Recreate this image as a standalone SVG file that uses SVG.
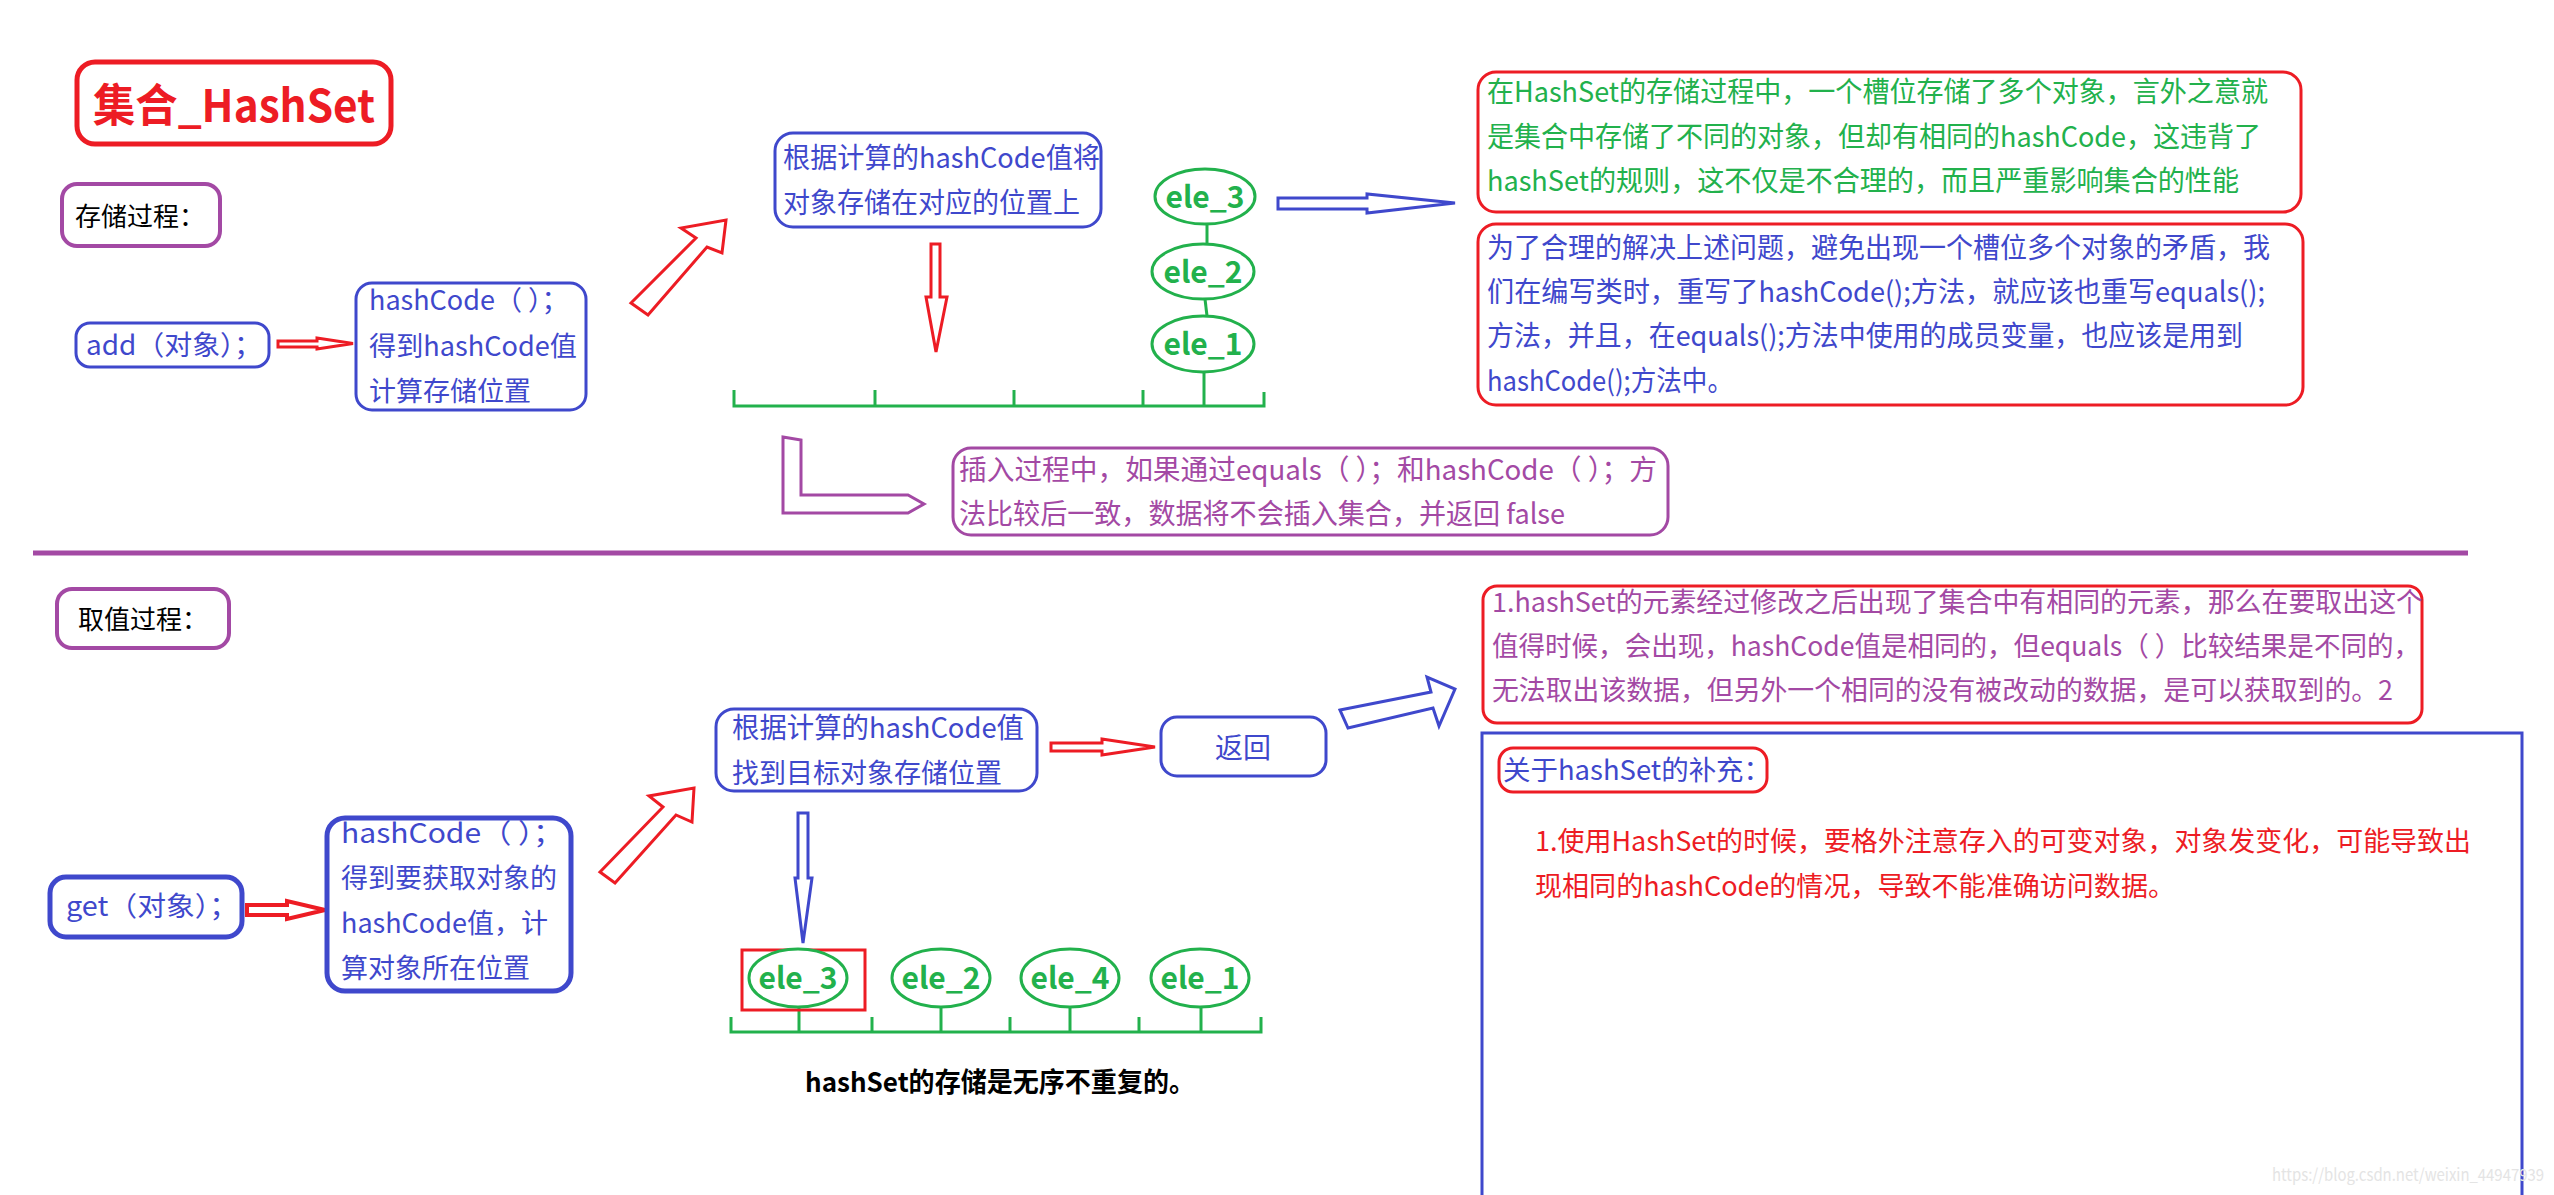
<svg xmlns="http://www.w3.org/2000/svg" width="2554" height="1195" viewBox="0 0 2554 1195">
<style>
text{font-family:"Noto Sans CJK SC","Microsoft YaHei","Noto Sans",sans-serif;font-size:28px}
.b{fill:#3f48cc}.r{fill:#ed1c24}.g{fill:#22b14c}.p{fill:#a349a4}.k{fill:#000}
.bold{font-weight:bold}
.bx{fill:#fff;stroke-width:3}
.sb{stroke:#3f48cc}.sr{stroke:#ed1c24}.sg{stroke:#22b14c}.sp{stroke:#a349a4}
.el{fill:#fff;stroke:#22b14c;stroke-width:3}
.ln{fill:none;stroke-width:3}
.ar{fill:#fff;stroke-width:3;stroke-linejoin:miter}
.et{font-weight:bold;font-size:30px;fill:#22b14c;text-anchor:middle}
</style>
<rect width="2554" height="1195" fill="#fff"/>

<g id="connectors">
  <line x1="33" y1="553" x2="2468" y2="553" stroke="#a349a4" stroke-width="5"/>
  <polygon class="ar sr" points="278,341 317,341 317,338 353,343.5 317,349 317,347 278,347"/>
  <polygon class="ar sr" points="631,303 696,238 681,228 726,220 722,253 707,247 648,315"/>
  <polygon class="ar sr" points="931,244 940,244 940,297 947,297 936,352 926,297 931,297"/>
  <polygon class="ar sb" points="1278,198 1367,198 1367,194 1455,203 1367,213 1367,209 1278,209"/>
  <polygon class="ar sp" points="783,437 801,440 801,495 908,495 924,504 908,513 783,513"/>
  <polyline class="ln sg" points="734,390 734,406 1264,406 1264,392"/>
  <line class="ln sg" x1="875" y1="390" x2="875" y2="406"/>
  <line class="ln sg" x1="1014" y1="390" x2="1014" y2="406"/>
  <line class="ln sg" x1="1143" y1="390" x2="1143" y2="406"/>
  <line class="ln sg" x1="1207" y1="224" x2="1207" y2="244"/>
  <line class="ln sg" x1="1205" y1="299" x2="1207" y2="316"/>
  <line class="ln sg" x1="1204" y1="372" x2="1204" y2="406"/>
  <polygon class="ar sr" points="247,905 287,905 287,901 325,910 287,919 287,915 247,915" style="stroke-width:4"/>
  <polygon class="ar sr" points="600,872 663,807 649,796 694,788 692,822 676,815 615,883"/>
  <polygon class="ar sr" points="1051,743 1102,743 1102,739 1155,747 1102,755 1102,751 1051,751"/>
  <polygon class="ar sb" points="798,813 808,813 808,878 812,878 803,943 795,878 798,878"/>
  <polygon class="ar sb" points="1340,710 1431,692 1427,677 1455,689 1439,726 1433,708 1348,728"/>
  <polyline class="ln sg" points="731,1017 731,1032 1261,1032 1261,1017"/>
  <line class="ln sg" x1="872" y1="1017" x2="872" y2="1032"/>
  <line class="ln sg" x1="1010" y1="1017" x2="1010" y2="1032"/>
  <line class="ln sg" x1="1139" y1="1017" x2="1139" y2="1032"/>
  <line class="ln sg" x1="799" y1="1008" x2="799" y2="1032"/>
  <line class="ln sg" x1="941" y1="1008" x2="941" y2="1032"/>
  <line class="ln sg" x1="1070" y1="1008" x2="1070" y2="1032"/>
  <line class="ln sg" x1="1201" y1="1008" x2="1201" y2="1032"/>
</g>

<g id="title">
  <rect x="77" y="62" width="314" height="82" rx="18" class="bx sr" style="stroke-width:5"/>
  <text x="93" y="122" class="r bold" style="font-size:45px" textLength="282" lengthAdjust="spacingAndGlyphs">集合_HashSet</text>
</g>

<g id="store-label">
  <rect x="62" y="184" width="158" height="62" rx="15" class="bx sp" style="stroke-width:4"/>
  <text x="75" y="226" class="k" style="font-size:26px">存储过程：</text>
</g>

<g id="add">
  <rect x="76" y="323" width="193" height="44" rx="14" class="bx sb"/>
  <text x="86" y="355" class="b" style="font-size:27px" textLength="176" lengthAdjust="spacingAndGlyphs">add（对象）；</text>
</g>

<g id="hashcode-1">
  <rect x="356" y="283" width="230" height="127" rx="16" class="bx sb"/>
  <text x="369" y="310" class="b" style="font-size:27px">hashCode（ ）；</text>
  <text x="369" y="356" class="b" style="font-size:27px" textLength="208" lengthAdjust="spacingAndGlyphs">得到hashCode值</text>
  <text x="369" y="401" class="b" style="font-size:27px">计算存储位置</text>
</g>

<g id="store-position">
  <rect x="775" y="133" width="326" height="94" rx="18" class="bx sb"/>
  <text x="783" y="168" class="b" textLength="317" lengthAdjust="spacingAndGlyphs">根据计算的hashCode值将</text>
  <text x="783" y="213" class="b" textLength="297" lengthAdjust="spacingAndGlyphs">对象存储在对应的位置上</text>
</g>

<g id="ele3-top"><ellipse cx="1205" cy="196.5" rx="50" ry="27.5" class="el"/><text x="1205" y="208" class="et">ele_3</text></g>
<g id="ele2-top"><ellipse cx="1203" cy="271.5" rx="51" ry="27.5" class="el"/><text x="1203" y="283" class="et">ele_2</text></g>
<g id="ele1-top"><ellipse cx="1203" cy="344" rx="51" ry="28" class="el"/><text x="1203" y="355" class="et">ele_1</text></g>

<g id="note-1">
  <rect x="1478" y="72" width="823" height="140" rx="18" class="bx sr"/>
  <text x="1487" y="102" class="g" textLength="781" lengthAdjust="spacingAndGlyphs">在HashSet的存储过程中，一个槽位存储了多个对象，言外之意就</text>
  <text x="1487" y="147" class="g" textLength="774" lengthAdjust="spacingAndGlyphs">是集合中存储了不同的对象，但却有相同的hashCode，这违背了</text>
  <text x="1487" y="191" class="g" textLength="752" lengthAdjust="spacingAndGlyphs">hashSet的规则，这不仅是不合理的，而且严重影响集合的性能</text>
</g>

<g id="note-2">
  <rect x="1478" y="224" width="825" height="181" rx="18" class="bx sr"/>
  <text x="1487" y="258" class="b" textLength="783" lengthAdjust="spacingAndGlyphs">为了合理的解决上述问题，避免出现一个槽位多个对象的矛盾，我</text>
  <text x="1487" y="302" class="b" textLength="778" lengthAdjust="spacingAndGlyphs">们在编写类时，重写了hashCode();方法，就应该也重写equals();</text>
  <text x="1487" y="346" class="b" textLength="756" lengthAdjust="spacingAndGlyphs">方法，并且，在equals();方法中使用的成员变量，也应该是用到</text>
  <text x="1487" y="391" class="b" textLength="246" lengthAdjust="spacingAndGlyphs">hashCode();方法中。</text>
</g>

<g id="insert-note">
  <rect x="953" y="448" width="715" height="87" rx="18" class="bx sp"/>
  <text x="959" y="480" class="p" textLength="698" lengthAdjust="spacingAndGlyphs">插入过程中，如果通过equals（ ）；和hashCode（ ）；方</text>
  <text x="959" y="524" class="p" textLength="606" lengthAdjust="spacingAndGlyphs">法比较后一致，数据将不会插入集合，并返回 false</text>
</g>

<g id="get-label">
  <rect x="57" y="589" width="172" height="59" rx="15" class="bx sp" style="stroke-width:4"/>
  <text x="78" y="629" class="k" style="font-size:26px">取值过程：</text>
</g>

<g id="get">
  <rect x="50" y="877" width="192" height="60" rx="16" class="bx sb" style="stroke-width:5"/>
  <text x="66" y="916" class="b" style="font-size:27px" textLength="172" lengthAdjust="spacingAndGlyphs">get（对象）；</text>
</g>

<g id="hashcode-2">
  <rect x="327" y="818" width="244" height="173" rx="18" class="bx sb" style="stroke-width:5"/>
  <text x="341" y="843" class="b" style="font-size:27px" textLength="222" lengthAdjust="spacingAndGlyphs">hashCode（ ）；</text>
  <text x="341" y="888" class="b" style="font-size:27px">得到要获取对象的</text>
  <text x="341" y="933" class="b" style="font-size:27px">hashCode值，计</text>
  <text x="341" y="978" class="b" style="font-size:27px">算对象所在位置</text>
</g>

<g id="find-position">
  <rect x="716" y="709" width="321" height="82" rx="18" class="bx sb"/>
  <text x="732" y="738" class="b" textLength="292" lengthAdjust="spacingAndGlyphs">根据计算的hashCode值</text>
  <text x="732" y="783" class="b" style="font-size:27px">找到目标对象存储位置</text>
</g>

<g id="return">
  <rect x="1161" y="717" width="165" height="59" rx="16" class="bx sb"/>
  <text x="1243" y="758" class="b" style="text-anchor:middle">返回</text>
</g>

<g id="ele3-bottom">
  <rect x="742" y="950" width="123" height="60" fill="none" stroke="#ed1c24" stroke-width="3"/>
  <ellipse cx="798" cy="978" rx="49" ry="29" class="el"/><text x="798" y="989" class="et">ele_3</text>
</g>
<g id="ele2-bottom"><ellipse cx="941" cy="978" rx="49" ry="29" class="el"/><text x="941" y="989" class="et">ele_2</text></g>
<g id="ele4-bottom"><ellipse cx="1070" cy="978" rx="49" ry="29" class="el"/><text x="1070" y="989" class="et">ele_4</text></g>
<g id="ele1-bottom"><ellipse cx="1200" cy="978" rx="49" ry="29" class="el"/><text x="1200" y="989" class="et">ele_1</text></g>

<g id="summary">
  <text x="805" y="1092" class="k bold" style="font-size:27px" textLength="390" lengthAdjust="spacingAndGlyphs">hashSet的存储是无序不重复的。</text>
</g>

<g id="note-3">
  <rect x="1483" y="586" width="939" height="137" rx="14" class="bx sr"/>
  <text x="1492" y="612" class="p" style="font-size:27px" textLength="931" lengthAdjust="spacingAndGlyphs">1.hashSet的元素经过修改之后出现了集合中有相同的元素，那么在要取出这个</text>
  <text x="1492" y="656" class="p" style="font-size:27px" textLength="928" lengthAdjust="spacingAndGlyphs">值得时候，会出现，hashCode值是相同的，但equals（ ）比较结果是不同的，</text>
  <text x="1492" y="700" class="p" style="font-size:27px" textLength="901" lengthAdjust="spacingAndGlyphs">无法取出该数据，但另外一个相同的没有被改动的数据，是可以获取到的。2</text>
</g>

<g id="supplement">
  <path d="M1482,1200 V733 H2522 V1200" fill="#fff" stroke="#3f48cc" stroke-width="3"/>
  <rect x="1499" y="748" width="268" height="44" rx="14" class="bx sr"/>
  <text x="1503" y="780" class="b" style="font-size:27px" textLength="268" lengthAdjust="spacingAndGlyphs">关于hashSet的补充：</text>
  <text x="1535" y="851" class="r" style="font-size:27px" textLength="936" lengthAdjust="spacingAndGlyphs">1.使用HashSet的时候，要格外注意存入的可变对象，对象发变化，可能导致出</text>
  <text x="1535" y="896" class="r" style="font-size:27px" textLength="640" lengthAdjust="spacingAndGlyphs">现相同的hashCode的情况，导致不能准确访问数据。</text>
  <text x="2272" y="1181" style="font-size:17px;fill:#e4e4e4" textLength="272" lengthAdjust="spacingAndGlyphs">https://blog.csdn.net/weixin_44947939</text>
</g>
</svg>
